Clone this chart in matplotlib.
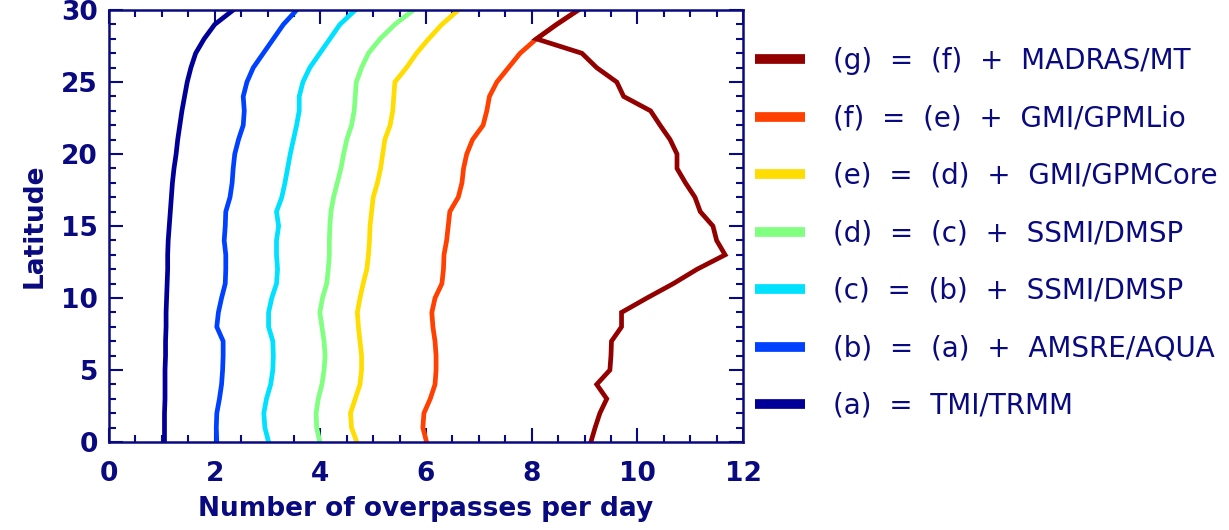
import matplotlib
matplotlib.use('Agg')
import matplotlib.pyplot as plt
import numpy as np
from matplotlib.ticker import MultipleLocator

# latitude grid (degrees)
lat = np.arange(0, 31)

# overpasses per day
tmi = [1.05, 1.05, 1.05, 1.06, 1.06, 1.06, 1.07, 1.07, 1.08, 1.08, 1.09,
       1.10, 1.11, 1.11, 1.12, 1.14, 1.16, 1.18, 1.20, 1.23, 1.27,
       1.30, 1.34, 1.38, 1.43, 1.48, 1.55, 1.64, 1.80, 2.00, 2.35]
amsre = [2.04, 2.03, 2.04, 2.09, 2.13, 2.15, 2.16, 2.16, 2.04, 2.07, 2.13,
         2.20, 2.21, 2.21, 2.18, 2.20, 2.21, 2.29, 2.33, 2.35, 2.38,
         2.45, 2.54, 2.56, 2.54, 2.61, 2.73, 2.92, 3.11, 3.30, 3.55]
ssmi1 = [3.02, 2.95, 2.93, 2.98, 3.06, 3.10, 3.11, 3.10, 3.02, 3.02, 3.08,
         3.17, 3.19, 3.17, 3.17, 3.21, 3.17, 3.27, 3.33, 3.38, 3.43,
         3.49, 3.55, 3.60, 3.60, 3.67, 3.80, 3.99, 4.18, 4.37, 4.66]
ssmi2 = [3.99, 3.93, 3.92, 3.96, 4.03, 4.07, 4.09, 4.07, 4.03, 3.99, 4.04,
         4.12, 4.15, 4.17, 4.17, 4.18, 4.20, 4.25, 4.32, 4.39, 4.44,
         4.50, 4.59, 4.64, 4.66, 4.68, 4.78, 4.91, 5.13, 5.41, 5.76]
gpm_core = [4.69, 4.59, 4.57, 4.66, 4.75, 4.78, 4.78, 4.75, 4.72, 4.70, 4.75,
            4.81, 4.88, 4.91, 4.93, 4.94, 4.97, 5.00, 5.08, 5.14, 5.18,
            5.22, 5.32, 5.37, 5.39, 5.41, 5.63, 5.82, 6.05, 6.30, 6.61]
gpm_lio = [6.01, 5.94, 5.96, 6.08, 6.17, 6.19, 6.19, 6.17, 6.13, 6.11, 6.17,
           6.30, 6.33, 6.34, 6.39, 6.42, 6.45, 6.61, 6.68, 6.71, 6.77,
           6.88, 7.08, 7.15, 7.20, 7.34, 7.56, 7.78, 8.09, 8.47, 8.88]
madras = [9.12, 9.20, 9.29, 9.42, 9.23, 9.48, 9.50, 9.51, 9.70, 9.70, 10.18,
          10.68, 11.13, 11.66, 11.50, 11.43, 11.19, 11.09, 10.91, 10.75, 10.75,
          10.62, 10.43, 10.25, 9.74, 9.61, 9.23, 8.95, 8.09, 8.47, 8.88]

series = [tmi, amsre, ssmi1, ssmi2, gpm_core, gpm_lio, madras]
labels = ['(a)  =  TMI/TRMM',
          '(b)  =  (a)  +  AMSRE/AQUA',
          '(c)  =  (b)  +  SSMI/DMSP',
          '(d)  =  (c)  +  SSMI/DMSP',
          '(e)  =  (d)  +  GMI/GPMCore',
          '(f)  =  (e)  +  GMI/GPMLio',
          '(g)  =  (f)  +  MADRAS/MT']
colors = ['#000099', '#0040ff', '#00e0ff', '#80ff80', '#ffdd00', '#ff4000', '#930000']

navy = '#0a0a80'

fig = plt.figure(figsize=(12.29, 5.30), dpi=100)
ax = fig.add_axes([0.0887, 0.166, 0.5159, 0.815])

handles = []
for vals, lab, col in zip(series, labels, colors):
    h, = ax.plot(vals, lat, color=col, lw=3.4, label=lab, solid_joinstyle='miter')
    handles.append(h)

ax.set_xlim(0, 12)
ax.set_ylim(0, 30)
ax.xaxis.set_major_locator(MultipleLocator(2))
ax.xaxis.set_minor_locator(MultipleLocator(0.5))
ax.yaxis.set_major_locator(MultipleLocator(5))
ax.yaxis.set_minor_locator(MultipleLocator(1))
ax.tick_params(which='both', direction='in', top=True, right=True, color=navy, width=1.5)
ax.tick_params(which='major', length=10)
ax.tick_params(which='minor', length=5)
ax.tick_params(axis='x', which='major', pad=14)
ax.tick_params(axis='y', which='major', pad=8)
for lbl in ax.get_xticklabels() + ax.get_yticklabels():
    lbl.set_fontsize(19)
    lbl.set_fontweight('bold')
    lbl.set_color(navy)
for sp in ax.spines.values():
    sp.set_color(navy)
    sp.set_linewidth(1.8)

ax.set_xlabel('Number of overpasses per day', fontsize=19, fontweight='bold', color=navy, labelpad=6)
ax.set_ylabel('Latitude', fontsize=19, fontweight='bold', color=navy, labelpad=10)

leg = ax.legend(handles[::-1], [h.get_label() for h in handles[::-1]],
                loc='center left', bbox_to_anchor=(1.019, 0.483), frameon=False,
                fontsize=20, handlelength=1.8, handletextpad=1.0, labelspacing=1.06,
                borderpad=0, borderaxespad=0)
for t in leg.get_texts():
    t.set_color(navy)
for lh in leg.get_lines():
    lh.set_linewidth(7)
    lh.set_solid_capstyle('butt')

fig.savefig('out.png', dpi=100)
